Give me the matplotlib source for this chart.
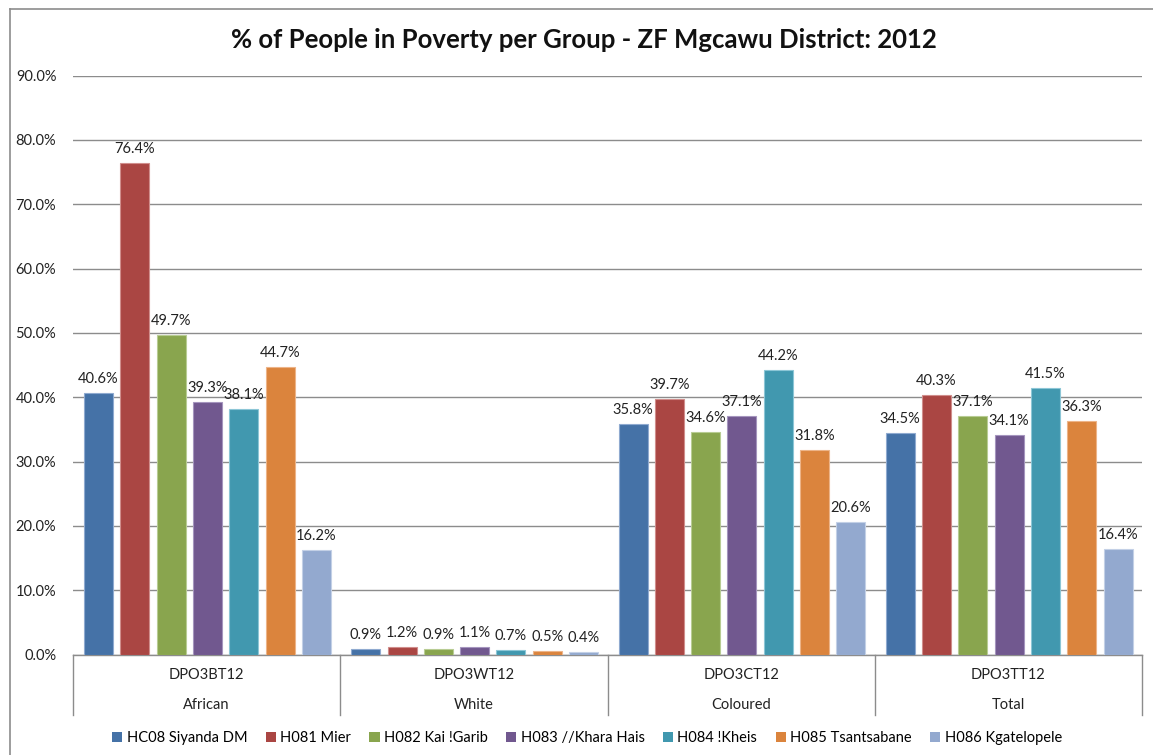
import matplotlib
matplotlib.use("Agg")
import matplotlib.pyplot as plt
import numpy as np
from matplotlib.lines import Line2D
from matplotlib.patches import Patch

plt.rcParams['font.family'] = ['Lato', 'DejaVu Sans']

codes = ["DPO3BT12", "DPO3WT12", "DPO3CT12", "DPO3TT12"]
groups = ["African", "White", "Coloured", "Total"]
series_names = ["HC08 Siyanda DM", "H081 Mier", "H082 Kai !Garib", "H083 //Khara Hais",
                "H084 !Kheis", "H085 Tsantsabane", "H086 Kgatelopele"]
siyanda = [40.6, 0.9, 35.8, 34.5]
mier = [76.4, 1.2, 39.7, 40.3]
kai_garib = [49.7, 0.9, 34.6, 37.1]
khara_hais = [39.3, 1.1, 37.1, 34.1]
kheis = [38.1, 0.7, 44.2, 41.5]
tsantsabane = [44.7, 0.5, 31.8, 36.3]
kgatelopele = [16.2, 0.4, 20.6, 16.4]
series = [siyanda, mier, kai_garib, khara_hais, kheis, tsantsabane, kgatelopele]
colors = ["#4572A7", "#AA4643", "#89A54E", "#71588F", "#4198AF", "#DB843D", "#93A9CF"]
edges = ["#8FAAD0", "#D08E8C", "#B8CC93", "#A595BE", "#8CC6D6", "#EDB488", "#C3D0E6"]

W, H = 1153, 755
fig = plt.figure(figsize=(W / 100, H / 100), dpi=100)
ax = fig.add_axes([73 / W, 1 - 654.5 / H, (1142 - 73) / W, (654.5 - 75.5) / H])

n = len(series)
bw = 29 / 267.25
pitch = 36.3 / 267.25
start = 11 / 267.25
x0 = np.arange(len(groups))
for i, (vals, c, ec) in enumerate(zip(series, colors, edges)):
    xs = x0 + start + i * pitch + bw / 2
    bars = ax.bar(xs, vals, width=bw, color=c, edgecolor=ec, linewidth=0.8,
                  label=series_names[i], zorder=3)
    for xx, v in zip(xs, vals):
        ax.annotate(f"{v:.1f}%", (xx, v), xytext=(0, 5), textcoords="offset points",
                    ha="center", va="bottom", fontsize=10.5, color="#222222", zorder=4)

ax.set_xlim(0, len(groups))
ax.set_ylim(0, 90)
ax.set_yticks(np.arange(0, 91, 10))
ax.set_yticklabels([f"{t:.1f}%" for t in np.arange(0, 91, 10)], fontsize=10.5, color="#222222")
ax.tick_params(axis="y", length=0, pad=12)
ax.set_xticks([])
ax.yaxis.grid(True, color="#8c8c8c", linewidth=1.0, zorder=0)
ax.set_axisbelow(True)
for s in ["left", "right", "top"]:
    ax.spines[s].set_visible(False)
ax.spines["bottom"].set_color("#8c8c8c")
ax.spines["bottom"].set_linewidth(1.0)

# multi-level category axis
trans = ax.get_xaxis_transform()
px = 1 / (654.5 - 75.5)
for b in range(len(groups) + 1):
    ax.plot([b, b], [0, -(715 - 654.5) * px], transform=trans, color="#8c8c8c",
            linewidth=1.0, clip_on=False)
for i, (cd, g) in enumerate(zip(codes, groups)):
    ax.text(i + 0.5, -(675 - 654.5) * px, cd, transform=trans, ha="center", va="center",
            fontsize=10.5, color="#222222")
    ax.text(i + 0.5, -(705 - 654.5) * px, g, transform=trans, ha="center", va="center",
            fontsize=10.5, color="#222222")

fig.text(584 / W, 1 - 40 / H, "% of People in Poverty per Group - ZF Mgcawu District: 2012",
         ha="center", va="center", fontsize=18.5, fontweight="bold", color="#111111")

handles = [Patch(facecolor=c, edgecolor="none") for c in colors]
fig.legend(handles, series_names, loc="center", bbox_to_anchor=(587 / W, 1 - 738 / H),
           ncol=7, frameon=False, fontsize=10.5, handlelength=0.7, handleheight=0.7,
           handletextpad=0.3, columnspacing=1.25)

# outer chart border
fig.add_artist(Line2D([10 / W, 10 / W], [0, 1 - 9 / H], color="#8c8c8c", linewidth=1.2,
                      transform=fig.transFigure))
fig.add_artist(Line2D([10 / W, 1], [1 - 9 / H, 1 - 9 / H], color="#8c8c8c", linewidth=1.2,
                      transform=fig.transFigure))

fig.savefig("out.png", dpi=100)
